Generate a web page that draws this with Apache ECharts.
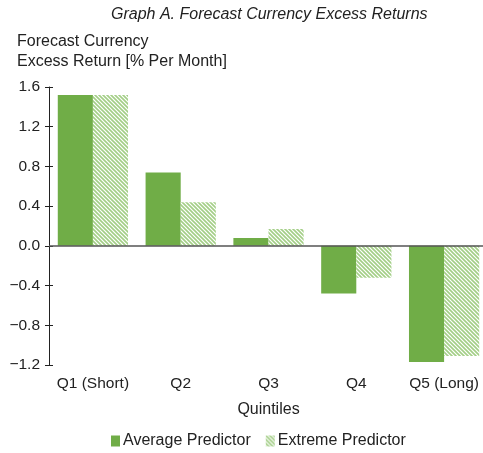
<!DOCTYPE html>
<html>
<head>
<meta charset="utf-8">
<script src="https://cdn.jsdelivr.net/npm/echarts@6/dist/echarts.min.js"></script>
<style>
html, body { margin: 0; padding: 0; background: #fff; }
#chart { width: 483px; height: 453px; }
</style>
</head>
<body>
<div id="chart"></div>
<script>
var categories = ['Q1 (Short)', 'Q2', 'Q3', 'Q4', 'Q5 (Long)'];
var averagePredictor = [1.52, 0.74, 0.08, -0.48, -1.17];
var extremePredictor = [1.52, 0.44, 0.17, -0.32, -1.11];
var yTicks = [-1.2, -0.8, -0.4, 0.0, 0.4, 0.8, 1.2, 1.6];

var FONT = '"Liberation Sans", Arial, sans-serif';

// hatch pattern for the extreme predictor bars
function makeHatch(){
	var size = 4;
	var c = document.createElement('canvas');
	c.width = size;
	c.height = size;
	var ctx = c.getContext('2d');
	ctx.fillStyle = '#fff';
	ctx.fillRect(0, 0, size, size);
	ctx.strokeStyle = '#a3ce86';
	ctx.lineWidth = 1.6;
	ctx.beginPath();
	ctx.moveTo(-1, -1); ctx.lineTo(size + 1, size + 1);
	ctx.moveTo(-1, size - 1); ctx.lineTo(1, size + 1);
	ctx.moveTo(size - 1, -1); ctx.lineTo(size + 1, 1);
	ctx.stroke();
	return c;
}
var hatch = { image: makeHatch(), repeat: 'repeat' };

function fmt(v){
	return v.toFixed(1).replace('-', '\u2212');
}

var chart = echarts.init(document.getElementById('chart'));
var option = {
	animation: false,
	textStyle: { fontFamily: FONT },
	title: [{
		text: 'Graph A. Forecast Currency Excess Returns',
		left: 106,
		top: 2,
		textStyle: { fontSize: 16, fontStyle: 'italic', fontWeight: 'normal', color: '#222', fontFamily: FONT }
	}, {
		text: 'Forecast Currency\nExcess Return [% Per Month]',
		left: 12,
		top: 27,
		textStyle: { fontSize: 16, fontWeight: 'normal', color: '#222', lineHeight: 20, fontFamily: FONT }
	}],
	legend: {
		data: ['Average Predictor', 'Extreme Predictor'],
		left: 106,
		top: 428,
		itemWidth: 9,
		itemHeight: 11,
		itemGap: 15,
		icon: 'rect',
		textStyle: { fontSize: 16, color: '#222', fontFamily: FONT, padding: [0, 0, 0, -2] }
	},
	grid: {
		left: 49,
		top: 87,
		bottom: 88,
		width: 439,
		outerBoundsMode: 'none'
	},
	xAxis: {
		type: 'category',
		data: categories,
		name: 'Quintiles',
		nameLocation: 'middle',
		nameGap: 37,
		nameTextStyle: { fontSize: 16, color: '#222' },
		axisLine: { show: false, onZero: false },
		axisTick: { show: false },
		axisLabel: { fontSize: 15.5, color: '#222', margin: 11, interval: 0 }
	},
	yAxis: [{
		type: 'value',
		min: -1.2,
		max: 1.6,
		interval: 0.4,
		axisLine: { show: true, lineStyle: { color: '#222', width: 1 } },
		axisTick: { show: true, length: 4, lineStyle: { color: '#222' } },
		splitLine: { show: false },
		axisLabel: {
			fontSize: 15.5,
			color: '#222',
			margin: 9,
			formatter: function(v){ return fmt(v); }
		}
	}, {
		type: 'value',
		position: 'left',
		min: -1.2,
		max: 1.6,
		interval: 0.4,
		axisLine: { show: false },
		axisTick: { show: true, inside: true, length: 4, lineStyle: { color: '#222' } },
		splitLine: { show: false },
		axisLabel: { show: false }
	}],
	series: [{
		name: 'Average Predictor',
		type: 'bar',
		data: averagePredictor,
		barGap: '0%',
		barCategoryGap: '20%',
		itemStyle: { color: '#70ad47' },
		markLine: {
			silent: true,
			symbol: 'none',
			label: { show: false },
			lineStyle: { color: '#555', width: 1.5, type: 'solid' },
			data: [{ yAxis: 0 }]
		}
	}, {
		name: 'Extreme Predictor',
		type: 'bar',
		data: extremePredictor,
		itemStyle: { color: hatch }
	}]
};
chart.setOption(option);
</script>
</body>
</html>
